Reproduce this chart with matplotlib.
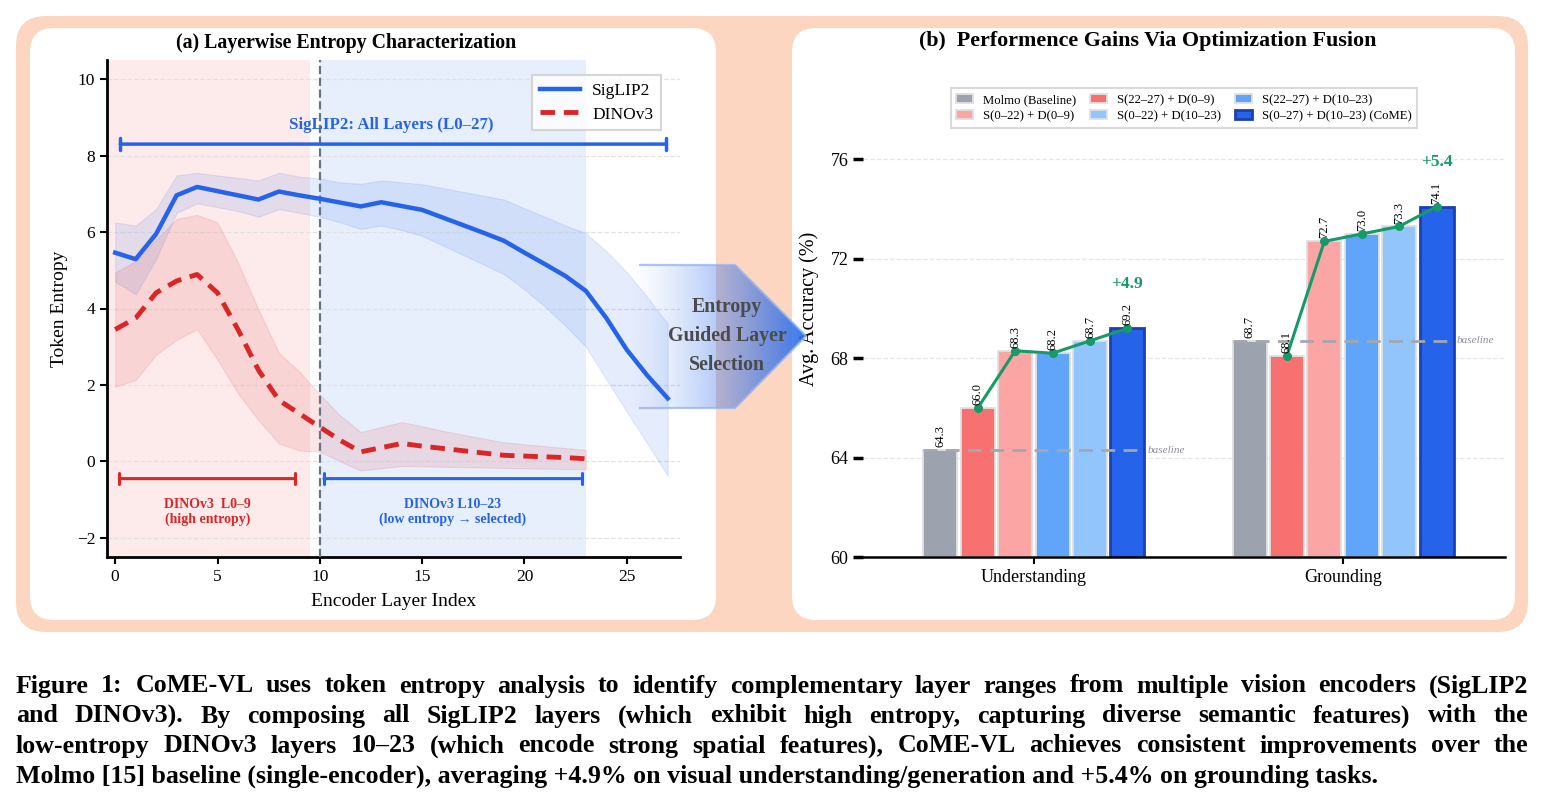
import matplotlib
matplotlib.use("Agg")
import matplotlib.pyplot as plt
import numpy as np
from matplotlib.patches import FancyBboxPatch, Polygon
from matplotlib.colors import to_rgb

plt.rcParams['font.family'] = ['Liberation Serif', 'DejaVu Serif']

# ---- panel (a) data: token entropy per encoder layer ----
sig_layers = np.arange(28)
siglip    = [5.46, 5.29, 5.95, 6.96, 7.18, 7.07, 6.96, 6.85, 7.06, 6.96, 6.87, 6.77, 6.67, 6.78,
             6.68, 6.58, 6.38, 6.18, 5.98, 5.77, 5.46, 5.16, 4.85, 4.46, 3.75, 2.92, 2.25, 1.65]
siglip_hi = [6.25, 6.17, 6.60, 7.48, 7.55, 7.48, 7.42, 7.35, 7.55, 7.45, 7.40, 7.30, 7.26, 7.35,
             7.30, 7.25, 7.15, 7.05, 6.95, 6.85, 6.62, 6.40, 6.17, 5.97, 5.50, 4.95, 4.30, 3.60]
siglip_lo = [4.70, 4.37, 5.29, 6.50, 6.75, 6.65, 6.55, 6.40, 6.60, 6.50, 6.40, 6.25, 6.08, 6.17,
             6.05, 5.90, 5.65, 5.40, 5.15, 4.90, 4.50, 4.05, 3.55, 3.00, 2.15, 1.30, 0.47, -0.37]

dino_layers = np.arange(24)
dino    = [3.45, 3.75, 4.41, 4.72, 4.89, 4.41, 3.45, 2.39, 1.60, 1.25, 0.90, 0.55, 0.25, 0.36,
           0.47, 0.40, 0.34, 0.28, 0.22, 0.16, 0.14, 0.12, 0.10, 0.07]
dino_hi = [4.94, 5.24, 5.80, 6.34, 6.45, 6.25, 5.20, 3.97, 2.84, 2.35, 1.75, 1.20, 0.77, 0.90,
           1.03, 0.92, 0.80, 0.70, 0.60, 0.50, 0.45, 0.40, 0.35, 0.30]
dino_lo = [1.96, 2.13, 2.79, 3.18, 3.46, 2.66, 1.78, 1.08, 0.47, 0.29, 0.25, 0.00, -0.24, -0.18,
           -0.12, -0.13, -0.14, -0.15, -0.16, -0.17, -0.18, -0.19, -0.20, -0.20]

# ---- panel (b) data: accuracy per configuration ----
tasks = ["Understanding", "Grounding"]
configs = ["Molmo (Baseline)", "S(22–27) + D(0–9)", "S(0–22) + D(0–9)",
           "S(22–27) + D(10–23)", "S(0–22) + D(10–23)", "S(0–27) + D(10–23) (CoME)"]
understanding = [64.3, 66.0, 68.3, 68.2, 68.7, 69.2]
grounding     = [68.7, 68.1, 72.7, 73.0, 73.3, 74.1]
gains = ["+4.9", "+5.4"]
bar_colors = ["#9CA3AF", "#F87171", "#FCA5A5", "#60A5FA", "#93C5FD", "#2563EB"]

caption = [
    "Figure 1: CoME-VL uses token entropy analysis to identify complementary layer ranges from multiple vision encoders (SigLIP2",
    "and DINOv3). By composing all SigLIP2 layers (which exhibit high entropy, capturing diverse semantic features) with the",
    "low-entropy DINOv3 layers 10–23 (which encode strong spatial features), CoME-VL achieves consistent improvements over the",
    "Molmo [15] baseline (single-encoder), averaging +4.9% on visual understanding/generation and +5.4% on grounding tasks.",
]

W, H = 1544, 811
fig = plt.figure(figsize=(W / 100, H / 100), dpi=100)
fig.patch.set_facecolor("white")

# background with the peach frame and white panels (pixel coordinates)
bg = fig.add_axes([0, 0, 1, 1], zorder=0)
bg.set_xlim(0, W)
bg.set_ylim(H, 0)
bg.axis("off")
bg.add_patch(FancyBboxPatch((16, 16), 1512, 616, boxstyle="round,pad=0,rounding_size=30",
                            fc="#FCD6C0", ec="none"))
bg.add_patch(FancyBboxPatch((30, 28), 686, 592, boxstyle="round,pad=0,rounding_size=24",
                            fc="white", ec="none"))
bg.add_patch(FancyBboxPatch((792, 28), 723, 592, boxstyle="round,pad=0,rounding_size=24",
                            fc="white", ec="none"))

# ================= panel (a) =================
ax = fig.add_axes([107 / W, 1 - 557 / H, 573 / W, 497 / H], zorder=1)
ax.set_facecolor("none")
ax.axvspan(-0.5, 9.5, color="#EF4444", alpha=0.1, lw=0, zorder=0.5)
ax.axvspan(10, 23, color="#3B82F6", alpha=0.12, lw=0, zorder=0.5)
ax.axvline(10, color="#6B7280", ls="--", lw=1.6, zorder=3)

ax.fill_between(sig_layers, siglip_lo, siglip_hi, color="#3B6FE8", alpha=0.13,
                edgecolor="#3B6FE8", lw=0.8, zorder=2)
ax.fill_between(dino_layers, dino_lo, dino_hi, color="#E23B3B", alpha=0.13,
                edgecolor="#E23B3B", lw=0.8, zorder=2)
ax.plot(sig_layers, siglip, color="#2563EB", lw=3.2, label="SigLIP2", zorder=4)
ax.plot(dino_layers, dino, color="#DC2626", lw=3.5, ls=(0, (3, 1.8)), label="DINOv3", zorder=4)

ax.annotate("", xy=(26.9, 8.3), xytext=(0.25, 8.3),
            arrowprops=dict(arrowstyle="|-|,widthA=0.45,widthB=0.45", color="#2563EB", lw=2.5,
                            shrinkA=0, shrinkB=0), zorder=5)
ax.text(13.5, 8.8, "SigLIP2: All Layers (L0–27)", color="#2563EB", fontsize=12.2,
        fontweight="bold", ha="center", va="center")
ax.annotate("", xy=(8.8, -0.45), xytext=(0.2, -0.45),
            arrowprops=dict(arrowstyle="|-|,widthA=0.4,widthB=0.4", color="#DC2626", lw=2.2,
                            shrinkA=0, shrinkB=0), zorder=5)
ax.text(4.5, -1.33, "DINOv3  L0–9\n(high entropy)", color="#DC2626", fontsize=10,
        fontweight="bold", ha="center", va="center", linespacing=1.15)
ax.annotate("", xy=(22.8, -0.45), xytext=(10.2, -0.45),
            arrowprops=dict(arrowstyle="|-|,widthA=0.4,widthB=0.4", color="#2563EB", lw=2.2,
                            shrinkA=0, shrinkB=0), zorder=5)
ax.text(16.5, -1.33, "DINOv3 L10–23\n(low entropy → selected)", color="#2563EB", fontsize=10,
        fontweight="bold", ha="center", va="center", linespacing=1.15)

ax.set_xlim(-0.4, 27.6)
ax.set_ylim(-2.5, 10.5)
ax.set_xticks([0, 5, 10, 15, 20, 25])
ax.set_yticks([-2, 0, 2, 4, 6, 8, 10])
ax.set_yticklabels(["−2", "0", "2", "4", "6", "8", "10"])
ax.grid(axis="y", ls="--", color="#E2E2E2", lw=0.9)
ax.set_axisbelow(True)
for s in ["top", "right"]:
    ax.spines[s].set_visible(False)
for s in ["left", "bottom"]:
    ax.spines[s].set_linewidth(2)
ax.tick_params(labelsize=12.5, width=1.5, length=5)
ax.set_xlabel("Encoder Layer Index", fontsize=14, labelpad=6)
ax.set_ylabel("Token Entropy", fontsize=14, labelpad=6)
leg = ax.legend(loc="upper right", bbox_to_anchor=(0.982, 0.988), fontsize=12.5, fancybox=False,
                edgecolor="#CCCCCC", handlelength=2.3, borderpad=0.45, labelspacing=0.45,
                handletextpad=0.7)
leg.get_frame().set_linewidth(1.5)
fig.text(346 / W, 1 - 43 / H, "(a) Layerwise Entropy Characterization", fontsize=14.3,
         fontweight="bold", ha="center", va="center")

# ================= panel (b) =================
bx = fig.add_axes([863 / W, 1 - 557 / H, 642 / W, 497 / H], zorder=1)
bx.set_facecolor("none")
step, width = 0.121, 0.11
group_x = np.arange(len(tasks))
handles = []
for g, vals in enumerate([understanding, grounding]):
    xs = group_x[g] + (np.arange(len(vals)) - 2.5) * step
    for i, v in enumerate(vals):
        ec, lw = ("#1E40AF", 2) if i == len(vals) - 1 else ("#E0E0E0", 1.3)
        b = bx.bar(xs[i], v - 60, width, bottom=60, color=bar_colors[i], edgecolor=ec,
                   linewidth=lw, zorder=2, label=configs[i])
        if g == 0:
            handles.append(b)
        bx.text(xs[i], v + 0.12, f"{v:.1f}", rotation=90, ha="center", va="bottom",
                fontsize=9, zorder=6)
    bx.plot(xs[1:], vals[1:], color="#169B68", lw=2.2, marker="o", ms=5.5, zorder=5)
    bx.hlines(vals[0], xs[0] - width / 2, xs[-1] + width / 2, colors="#A3A7AE", lw=2,
              linestyles=(0, (5, 3)), zorder=4)
    bx.text(xs[-1] + width / 2 + 0.01, vals[0], "baseline", fontsize=8, style="italic",
            color="#8C8F96", va="center", ha="left")
    bx.text(xs[-1], vals[-1] + 1.8, gains[g], color="#169B68", fontsize=12.5,
            fontweight="bold", ha="center", va="center")

bx.set_xlim(-0.553, 1.524)
bx.set_ylim(60, 80)
bx.set_yticks([60, 64, 68, 72, 76])
bx.set_xticks(group_x)
bx.set_xticklabels(tasks)
bx.grid(axis="y", ls="--", color="#E6E6E6", lw=0.9)
bx.set_axisbelow(True)
for s in ["top", "right", "left"]:
    bx.spines[s].set_visible(False)
bx.spines["bottom"].set_linewidth(1.8)
bx.tick_params(axis="y", labelsize=13, width=2.5, length=7)
bx.tick_params(axis="x", labelsize=13, width=1.5, length=5)
bx.set_ylabel("Avg. Accuracy (%)", fontsize=14.5, labelpad=8)
order = [0, 2, 1, 4, 3, 5]
leg2 = bx.legend([handles[i] for i in order], [configs[i] for i in order], loc="upper center",
                 bbox_to_anchor=(0.5, 0.956), ncol=3, fontsize=9.2, fancybox=False,
                 edgecolor="#D0D0D0", handlelength=1.3, handleheight=0.7, columnspacing=1.1,
                 borderpad=0.45, labelspacing=0.3, handletextpad=0.8)
leg2.get_frame().set_linewidth(1.5)
fig.text(1148 / W, 1 - 41 / H, "(b)  Performence Gains Via Optimization Fusion", fontsize=15.8,
         fontweight="bold", ha="center", va="center")

# ================= arrow between panels =================
ov = fig.add_axes([0, 0, 1, 1], zorder=3)
ov.set_facecolor("none")
ov.axis("off")
pts = [(628, 265), (735, 265), (806, 336), (735, 408), (628, 408)]
grad = np.zeros((2, 256, 4))
grad[..., :3] = to_rgb("#2F6FEA")
grad[..., 3] = np.linspace(0, 1, 256) ** 1.4 * 0.95
im = ov.imshow(grad, extent=(628, 806, 408, 265), aspect="auto", interpolation="bilinear")
clip = Polygon(pts, closed=True, fc="none", ec="none")
ov.add_patch(clip)
im.set_clip_path(clip)
ov.plot([640, 735, 806, 735, 640], [265, 265, 336, 408, 408], color="#8FB2F3", lw=1.6, alpha=0.75)
ov.set_xlim(0, W)
ov.set_ylim(H, 0)
ov.text(727, 336, "Entropy\nGuided Layer\nSelection", fontsize=14.3, fontweight="bold",
        color="#4A4A4A", ha="center", va="center", linespacing=1.6)

# ================= caption (justified lines) =================
renderer = fig.canvas.get_renderer()
cap_left, cap_right, cap_size = 16, 1528, 18.6
for k, line in enumerate(caption):
    y = 686 + k * 30
    if k == len(caption) - 1:
        ov.text(cap_left, y, line, fontsize=cap_size, fontweight="bold", ha="left", va="center")
        continue
    words = line.split(" ")
    texts = [ov.text(0, y, w, fontsize=cap_size, fontweight="bold", ha="left", va="center")
             for w in words]
    widths = [t.get_window_extent(renderer).width for t in texts]
    gap = (cap_right - cap_left - sum(widths)) / (len(words) - 1)
    x = cap_left
    for t, wd in zip(texts, widths):
        t.set_x(x)
        x += wd + gap

fig.savefig("out.png", dpi=100)
